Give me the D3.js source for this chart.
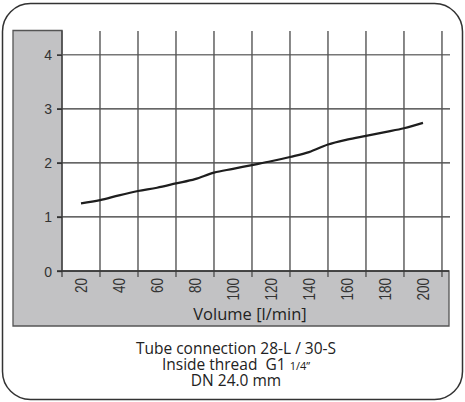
<!DOCTYPE html>
<html>
<head>
<meta charset="utf-8">
<script src="https://cdnjs.cloudflare.com/ajax/libs/d3/7.8.5/d3.min.js"></script>
<style>
  body { margin: 0; background: #fff; }
  svg { display: block; }
  .ylab { font-family: "Liberation Sans", Arial, sans-serif; font-size: 14px; fill: #333; }
  .xlab { font-family: "Liberation Sans", Arial, sans-serif; font-size: 13.5px; fill: #333; }
  .caption { font-family: "Open Sans", sans-serif; font-size: 15.5px; fill: #222; white-space: pre; }
</style>
</head>
<body>
<svg id="chart" width="465" height="402"></svg>
<script>
// flow volume [l/min] vs value
var volume = [20, 30, 40, 50, 60, 70, 80, 90, 100, 110, 120, 130, 140, 150, 160, 170, 180, 190, 200];
var values = [1.25, 1.31, 1.40, 1.48, 1.54, 1.62, 1.70, 1.82, 1.89, 1.96, 2.03, 2.11, 2.20, 2.34, 2.43, 2.50, 2.57, 2.64, 2.74];

var xTickLabels = [20, 40, 60, 80, 100, 120, 140, 160, 180, 200];
var xGridValues = [30, 50, 70, 90, 110, 130, 150, 170, 190, 210];
var yTickValues = [0, 1, 2, 3, 4];

var xTitle = "Volume [l/min]";
var captionLines = ["Tube connection 28-L / 30-S", "Inside thread  G1 ", "DN 24.0 mm"];

var plot = {left: 62, right: 449, top: 31, bottom: 271};

var x = d3.scaleLinear().domain([10, 213.7]).range([plot.left, plot.right]);
var y = d3.scaleLinear().domain([0, 4.44]).range([plot.bottom, plot.top]);

var svg = d3.select("#chart");

// outer rounded frame
svg.append("rect")
	.attr("x", 2.5).attr("y", 3.5)
	.attr("width", 460).attr("height", 396)
	.attr("rx", 28).attr("ry", 28)
	.attr("fill", "#fff")
	.attr("stroke", "#333")
	.attr("stroke-width", 1.5);

// grey L-shaped axis panel
svg.append("path")
	.attr("d", "M13,30.5 H" + plot.left + " V" + plot.bottom + " H" + plot.right + " V326 H13 Z")
	.attr("fill", "#c2c2c4")
	.attr("stroke", "#555")
	.attr("stroke-width", 1.3);

// horizontal grid + y ticks
svg.append("g").selectAll("line")
	.data(yTickValues.filter(function(d) { return d > 0; }))
	.enter().append("line")
	.attr("x1", plot.left - 5).attr("x2", plot.right + 1)
	.attr("y1", function(d) { return y(d); })
	.attr("y2", function(d) { return y(d); })
	.attr("stroke", function(d) { return d === 4 ? "#777" : "#333"; })
	.attr("stroke-width", function(d) { return d === 4 ? 1.6 : 1.3; });

// vertical grid
svg.append("g").selectAll("line")
	.data(xGridValues)
	.enter().append("line")
	.attr("x1", function(d) { return x(d); })
	.attr("x2", function(d) { return x(d); })
	.attr("y1", plot.top).attr("y2", plot.bottom + 6)
	.attr("stroke", "#555")
	.attr("stroke-width", 1.4);

// y axis
var yAxis = d3.axisLeft(y).tickValues(yTickValues).tickFormat(d3.format("d")).tickSize(5).tickPadding(5);
var gy = svg.append("g")
	.attr("transform", "translate(" + plot.left + ",0)")
	.call(yAxis);
gy.attr("font-family", null).attr("font-size", null);
gy.select(".domain").attr("stroke", "#444").attr("stroke-width", 1.3)
	.attr("d", "M0," + (plot.top - 0.5) + "V" + (plot.bottom + 6));
gy.selectAll(".tick line").attr("stroke", "#333").attr("stroke-width", 1.3);
gy.selectAll(".tick text").attr("class", "ylab").attr("fill", null).attr("dy", "0.36em");

// x axis line
var xAxis = d3.axisBottom(x).tickValues(xTickLabels).tickSize(0).tickPadding(0);
var gx = svg.append("g")
	.attr("transform", "translate(0," + plot.bottom + ")")
	.call(xAxis);
gx.attr("font-family", null).attr("font-size", null);
gx.select(".domain").attr("stroke", "#333").attr("stroke-width", 1.3)
	.attr("d", "M" + (plot.left - 5) + ",0H" + plot.right);
gx.selectAll(".tick text")
	.attr("class", "xlab").attr("fill", null)
	.attr("text-anchor", "end")
	.attr("y", 0).attr("dy", null)
	.attr("transform", "translate(0,7) rotate(-90) scale(1,1.2)")
	.attr("dominant-baseline", "central");

// x title
svg.append("text")
	.attr("class", "caption")
	.attr("x", 250)
	.attr("y", 320)
	.attr("text-anchor", "middle")
	.style("font-size", "16.5px")
	.text(xTitle);

// data line
var line = d3.line().curve(d3.curveMonotoneX)
	.x(function(d, i) { return x(volume[i]); })
	.y(function(d) { return y(d); });

svg.append("path")
	.datum(values)
	.attr("d", line)
	.attr("fill", "none")
	.attr("stroke", "#1e1e1e")
	.attr("stroke-width", 2.2);

// caption
var cap = svg.append("g");
cap.selectAll("text")
	.data(captionLines)
	.enter().append("text")
	.attr("class", "caption")
	.attr("x", 236)
	.attr("y", function(d, i) { return 354 + i * 16; })
	.attr("text-anchor", "middle")
	.text(function(d) { return d; })
	.filter(function(d, i) { return i === 1; })
	.append("tspan")
	.style("font-size", "11px")
	.text("1/4\u201D");
</script>
</body>
</html>
